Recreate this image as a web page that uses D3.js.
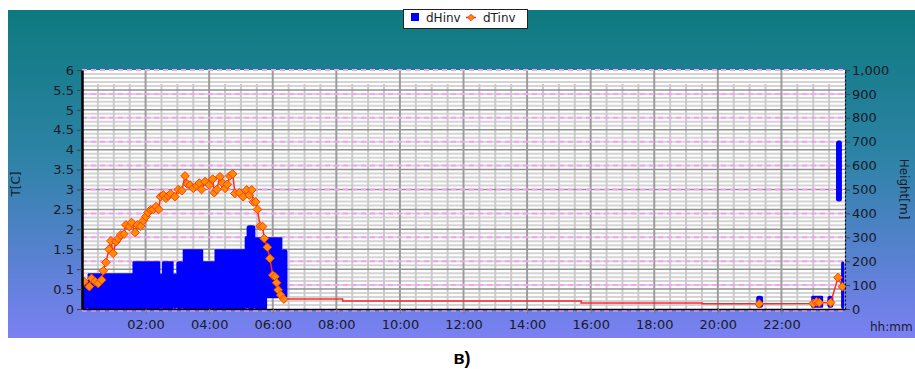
<!DOCTYPE html>
<html><head><meta charset="utf-8">
<script src="https://cdn.jsdelivr.net/npm/d3@7"></script>
<style>body{margin:0;background:#fff}svg{display:block}</style>
</head><body>
<svg id="c" width="915" height="369"></svg>
<script>
// ---- data (hours since 00:00) ----
const xTickHours = [2,4,6,8,10,12,14,16,18,20,22];
const tTickValues = [0,0.5,1,1.5,2,2.5,3,3.5,4,4.5,5,5.5,6];
const hTickValues = [0,100,200,300,400,500,600,700,800,900,1000];

// dHinv (m): segments start/end time, low and high height
const hStart = [0,0.19,1.6,2.45,2.53,2.87,2.98,3.18,3.8,4.18,5.13,5.19,5.44,5.81,6.29,21.22,22.95,23.46,23.73,23.89];
const hEnd   = [0.19,1.6,2.45,2.53,2.87,2.98,3.18,3.8,4.18,5.13,5.19,5.44,5.81,6.29,6.45,21.41,23.3,23.62,23.89,23.97];
const hLow   = [0,0,0,0,0,0,0,0,0,0,0,0,0,45,45,5,5,5,450,0];
const hHigh  = [110,150,200,150,200,150,200,250,200,250,305,350,300,300,250,55,55,55,705,200];

// dTinv (C): marked points, morning
const tEarlyTimes = [0.06,0.23,0.3,0.41,0.51,0.62,0.67,0.75,0.85,0.91,0.98,1.07,1.14,1.22,1.32,1.38,1.49,1.56,1.67,1.74,1.85,1.93,2.01,2.08,2.16,2.24,2.33,2.41,2.47,2.56,2.64,2.71,2.79,2.92,3.03,3.14,3.24,3.31,3.4,3.5,3.61,3.69,3.76,3.87,4.0,4.11,4.16,4.24,4.34,4.42,4.5,4.57,4.65,4.74,4.81,4.95,5.07,5.18,5.26,5.34,5.39,5.46,5.52,5.6,5.68,5.73,5.83,5.91,6.0,6.07,6.12,6.17,6.25,6.35];
const tEarlyVals  = [0.69,0.56,0.77,0.69,0.64,0.73,0.96,1.17,1.5,1.71,1.4,1.69,1.77,1.86,1.88,2.11,2.07,2.17,1.92,2.11,2.08,2.22,2.32,2.42,2.49,2.5,2.57,2.5,2.82,2.86,2.78,2.84,2.89,2.82,3.0,2.97,3.34,3.14,3.11,3.03,3.09,3.16,3.0,3.2,3.11,3.26,2.92,3.0,3.32,3.16,3.03,3.13,3.34,3.39,2.9,2.92,2.82,2.99,2.86,2.99,2.69,2.69,2.5,2.08,2.07,1.77,1.55,1.27,0.85,0.81,0.66,0.48,0.35,0.25];
// dTinv: unmarked stepped tail
const tTailTimes = [8.2,8.2,15.7,15.7,19.5,19.5];
const tTailVals  = [0.25,0.2,0.2,0.15,0.15,0.13];
// dTinv: marked points, late evening
const tLateTimes = [21.3,23.0,23.1,23.19,23.55,23.78,23.92];
const tLateVals  = [0.13,0.14,0.18,0.16,0.16,0.79,0.56];

// ---- layout ----
const svg = d3.select("#c");
const FONT = "DejaVu Sans, Verdana, sans-serif";
const x = d3.scaleLinear().domain([0,24]).range([82,845]);
const yT = d3.scaleLinear().domain([0,6]).range([309,70]);
const yH = d3.scaleLinear().domain([0,1000]).range([309,70]);

const defs = svg.append("defs");
const g = defs.append("linearGradient").attr("id","bg").attr("x1",0).attr("y1",0).attr("x2",0).attr("y2",1);
g.append("stop").attr("offset","0%").attr("stop-color","#0d7a7e");
g.append("stop").attr("offset","45%").attr("stop-color","#2d83a6");
g.append("stop").attr("offset","100%").attr("stop-color","#7b80f3");
defs.append("clipPath").attr("id","plotclip").append("rect")
  .attr("x",x(0)).attr("y",yT(6)-2).attr("width",x(24)-x(0)).attr("height",yT(0)-yT(6)+5);

svg.append("rect").attr("x",8).attr("y",10).attr("width",907).attr("height",328).attr("fill","url(#bg)");

const plot = svg.append("g").attr("clip-path","url(#plotclip)");
plot.append("rect").attr("x",x(0)).attr("y",yT(6)).attr("width",x(24)-x(0)).attr("height",yT(0)-yT(6)).attr("fill","#fff");

// minor horizontal grid (0.1 C)
const minorH = d3.range(0,60).map(i=>i/10).filter(v=>Math.round(v*10)%5!==0);
plot.selectAll(".mh").data(minorH).join("line")
  .attr("x1",x(0)).attr("x2",x(24)).attr("y1",d=>yT(d)).attr("y2",d=>yT(d))
  .attr("stroke","#d4d4d4").attr("stroke-width",2);
// minor vertical grid (30 min)
const minorV = d3.range(1,48).map(i=>i/2).filter(v=>v%2!==0);
plot.selectAll(".mv").data(minorV).join("line")
  .attr("x1",d=>x(d)).attr("x2",d=>x(d)).attr("y1",yT(0)).attr("y2",yT(5.65))
  .attr("stroke","#cacaca").attr("stroke-width",2);
// major horizontal
plot.selectAll(".Mh").data(tTickValues.slice(1,-1)).join("line")
  .attr("x1",x(0)).attr("x2",x(24)).attr("y1",d=>yT(d)).attr("y2",d=>yT(d))
  .attr("stroke","#909090").attr("stroke-width",1.5);
// major vertical
plot.selectAll(".Mv").data(xTickHours).join("line")
  .attr("x1",d=>x(d)).attr("x2",d=>x(d)).attr("y1",yT(0)).attr("y2",yT(6))
  .attr("stroke","#9c9c9c").attr("stroke-width",2);
// pink dashed (height ticks)
plot.selectAll(".ph").data(hTickValues).join("line")
  .attr("x1",x(0)).attr("x2",x(24)).attr("y1",d=>yH(d)+(d===0?1.5:0)).attr("y2",d=>yH(d)+(d===0?1.5:0))
  .attr("stroke","#f7a0f7").attr("stroke-width",2).attr("stroke-dasharray","5,4");

// dHinv bars
const hData = hStart.map((s,i)=>({s,e:hEnd[i],lo:hLow[i],hi:hHigh[i]}));
plot.selectAll(".hb").data(hData).join("rect")
  .attr("x",d=>x(d.s)-0.4).attr("width",d=>Math.max(1,x(d.e)-x(d.s))+0.8)
  .attr("y",d=>yH(d.hi)).attr("height",d=>yH(d.lo)-yH(d.hi))
  .attr("rx",d=>(x(d.e)-x(d.s))<10?2.5:1).attr("fill","#0000ff");

// dTinv line
const early = tEarlyTimes.map((t,i)=>[t,tEarlyVals[i]]);
const tail = tTailTimes.map((t,i)=>[t,tTailVals[i]]);
const late = tLateTimes.map((t,i)=>[t,tLateVals[i]]);
const line = d3.line().x(d=>x(d[0])).y(d=>yT(d[1]));
plot.append("path").attr("d",line(early.concat(tail,late)))
  .attr("fill","none").attr("stroke","#ff2828").attr("stroke-width",1.5);
const sym = d3.symbol().type(d3.symbolDiamond2).size(48);
plot.selectAll(".mk").data(early.concat(late)).join("path")
  .attr("d",sym).attr("transform",d=>`translate(${x(d[0])},${yT(d[1])})`)
  .attr("fill","#ff8c00").attr("stroke","#ff3a10").attr("stroke-width",1);

// axes
const txt = "#1a1a28";
const ax = svg.append("g").attr("transform",`translate(${x(0)},0)`)
  .call(d3.axisLeft(yT).tickValues(tTickValues).tickFormat(d3.format("~g")).tickSize(5).tickSizeOuter(0).tickPadding(3));
ax.select(".domain").attr("stroke","#000").attr("stroke-width",2.5);
const ar = svg.append("g").attr("transform",`translate(${x(24)},0)`)
  .call(d3.axisRight(yH).tickValues(hTickValues).tickFormat(d3.format(",")).tickSize(5).tickSizeOuter(0).tickPadding(2));
ar.select(".domain").attr("stroke","#000").attr("stroke-width",1.2).attr("stroke-dasharray","2,2");
const ab = svg.append("g").attr("transform",`translate(0,${yT(0)})`)
  .call(d3.axisBottom(x).tickValues(xTickHours).tickFormat(d=>String(d).padStart(2,"0")+":00").tickSize(5).tickSizeOuter(0).tickPadding(6));
ab.select(".domain").attr("stroke","#000").attr("stroke-width",1.5);
[ax,ar,ab].forEach(a=>{
  a.selectAll("text").attr("fill",txt).style("font-family",FONT).style("font-size","13px");
  a.selectAll(".tick line").attr("stroke","#444");
});
ab.selectAll(".tick line").attr("stroke","#777");

// titles
svg.append("text").attr("transform","translate(20,184) rotate(-90)").attr("text-anchor","middle")
  .style("font-family",FONT).style("font-size","12px").attr("fill",txt).text("T[C]");
svg.append("text").attr("transform","translate(900,189) rotate(90)").attr("text-anchor","middle")
  .style("font-family",FONT).style("font-size","12px").attr("fill",txt).text("Height[m]");
svg.append("text").attr("x",870).attr("y",331)
  .style("font-family",FONT).style("font-size","12px").attr("fill",txt).text("hh:mm");

// legend
const lg = svg.append("g");
lg.append("rect").attr("x",403.5).attr("y",9.5).attr("width",124).attr("height",19).attr("fill","#fff").attr("stroke","#222");
lg.append("rect").attr("x",411).attr("y",13).attr("width",8).attr("height",8).attr("fill","#0000ff");
lg.append("text").attr("x",426).attr("y",22).style("font-family",FONT).style("font-size","12px").attr("fill",txt).text("dHinv");
lg.append("line").attr("x1",466).attr("x2",476).attr("y1",17.5).attr("y2",17.5).attr("stroke","#ff2828").attr("stroke-width",1.5);
lg.append("path").attr("d",d3.symbol().type(d3.symbolDiamond2).size(26)).attr("transform","translate(471,17.5)")
  .attr("fill","#ff8c00").attr("stroke","#ff3a10");
lg.append("text").attr("x",483).attr("y",22).style("font-family",FONT).style("font-size","12px").attr("fill",txt).text("dTinv");

// caption
svg.append("text").attr("x",462).attr("y",364).attr("text-anchor","middle")
  .style("font-family","Liberation Sans, Arial, sans-serif").style("font-weight","bold").style("font-size","18px").attr("fill","#000").text("в)");
</script>
</body></html>
